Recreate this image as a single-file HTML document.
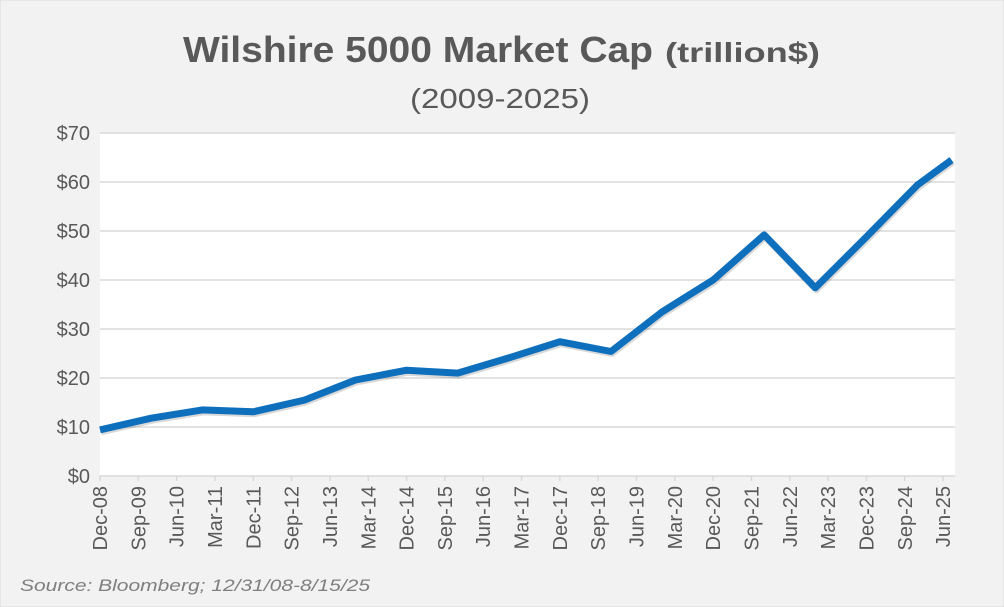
<!DOCTYPE html>
<html><head><meta charset="utf-8"><style>
html,body{margin:0;padding:0;background:#f2f2f2;}
svg{display:block;font-family:"Liberation Sans",sans-serif;}
</style></head><body>
<svg id="chart" width="1004" height="607" viewBox="0 0 1004 607">
<rect x="0" y="0" width="1004" height="607" fill="#f2f2f2" stroke="#d9d9d9"/>
<text x="183" y="62" font-size="36" font-weight="bold" fill="#595959" textLength="470" lengthAdjust="spacingAndGlyphs">Wilshire 5000 Market Cap</text>
<text x="665" y="62" font-size="28" font-weight="bold" fill="#595959" textLength="155" lengthAdjust="spacingAndGlyphs">(trillion$)</text>
<text x="500" y="108" font-size="28" fill="#595959" text-anchor="middle" textLength="180" lengthAdjust="spacingAndGlyphs">(2009-2025)</text>
<rect x="100" y="133" width="855" height="343" fill="#ffffff"/>
<g id="grid"></g><g id="yaxis"></g><g id="xaxis"></g><g id="series"></g>
<text x="20" y="591" font-size="17" font-style="italic" fill="#7f7f7f" textLength="350" lengthAdjust="spacingAndGlyphs">Source: Bloomberg; 12/31/08-8/15/25</text>
</svg>
<script>
const yTicks=[0,10,20,30,40,50,60,70];
const yTickLabels=["$0","$10","$20","$30","$40","$50","$60","$70"];
const xTickLabels=["Dec-08","Sep-09","Jun-10","Mar-11","Dec-11","Sep-12","Jun-13","Mar-14","Dec-14","Sep-15","Jun-16","Mar-17","Dec-17","Sep-18","Jun-19","Mar-20","Dec-20","Sep-21","Jun-22","Mar-23","Dec-23","Sep-24","Jun-25"];
const pointMonths=[0,12,24,36,48,60,72,84,96,108,120,132,144,156,168,180,192,200];
const marketCap=[9.4,11.8,13.5,13.1,15.5,19.6,21.6,21.0,24.1,27.4,25.4,33.5,40.0,49.2,38.4,48.8,59.4,64.5];
const ns="http://www.w3.org/2000/svg";
const X0=100,X1=955,Y0=476,Y1=133,MMAX=200.8,YMAX=70;
function xs(m){return X0+(m/MMAX)*(X1-X0);}
function ys(v){return Y0-(v/YMAX)*(Y0-Y1);}
function mk(tag,attrs,parent){const e=document.createElementNS(ns,tag);for(const k in attrs)e.setAttribute(k,attrs[k]);document.getElementById(parent).appendChild(e);return e;}
yTicks.forEach((t,i)=>{
  const l=mk('line',{x1:X0,x2:X1,y1:ys(t),y2:ys(t),stroke:'#d9d9d9','stroke-width':1.5},'grid');
  
  
  const tx=mk('text',{x:90,y:ys(t)+7,'font-size':20,fill:'#595959','text-anchor':'end'},'yaxis');
  tx.textContent=yTickLabels[i];
  
  
});
xTickLabels.forEach((lab,i)=>{
  const x=xs(i*9);
  const tk=mk('line',{x1:x,x2:x,y1:Y0,y2:Y0+5,stroke:'#d9d9d9','stroke-width':1.5},'xaxis');
  
  
  const tx=mk('text',{x:0,y:0,'font-size':20,fill:'#595959','text-anchor':'end',transform:`translate(${x+7},${Y0+10}) rotate(-90)`},'xaxis');
  tx.textContent=lab;
  
  
});
const pts=marketCap.map((v,i)=>[xs(pointMonths[i]),ys(v)]);
const d=pts.map((p,i)=>(i?'L':'M')+p[0].toFixed(1)+','+p[1].toFixed(1)).join(' ');
const sh=mk('path',{d:d,fill:'none',stroke:'rgba(0,0,0,0.15)','stroke-width':7,'stroke-linejoin':'round',transform:'translate(1,2)'},'series');


const ln=mk('path',{d:d,fill:'none',stroke:'#0e6fbd','stroke-width':7,'stroke-linejoin':'round','stroke-linecap':'butt'},'series');


</script>
</body></html>
